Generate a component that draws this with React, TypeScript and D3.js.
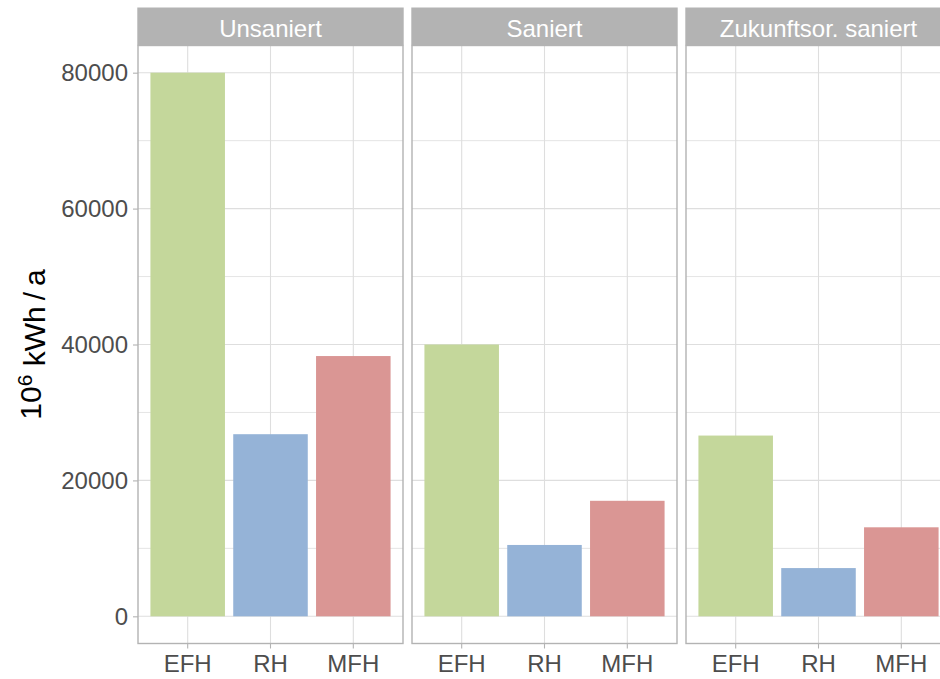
import React, { useEffect, useRef } from "react";
import * as d3 from "d3";

// facets, categories and values (10^6 kWh/a)
const facets = ["Unsaniert", "Saniert", "Zukunftsor. saniert"];
const types = ["EFH", "RH", "MFH"];
const unsaniert = [80000, 26800, 38300];
const saniert = [40000, 10500, 17000];
const zukunftsorSaniert = [26600, 7100, 13100];
const barColors = ["#C4D79B", "#95B3D7", "#DA9694"];
const yTicks = [0, 20000, 40000, 60000, 80000];
const yMinorTicks = [10000, 30000, 50000, 70000];

const App = () => {
  const ref = useRef<SVGSVGElement>(null);

  useEffect(() => {
    const width = 940;
    const height = 679;
    const stripTop = 7.5;
    const panelTop = 45.5;
    const panelBottom = 643.5;
    const font = "'Liberation Sans', Arial, sans-serif";
    const border = "#B3B3B3";
    const grid = "#DEDEDE";

    const series = [unsaniert, saniert, zukunftsorSaniert];
    const data = facets.flatMap((f, i) =>
      types.map((t, j) => ({ facet: f, type: t, value: series[i][j] }))
    );

    const svg = d3.select(ref.current);
    svg.selectAll("*").remove();
    svg.attr("width", width).attr("height", height);

    const facetScale = d3
      .scaleBand<string>(facets, [138, 951])
      .paddingInner(9 / 274)
      .paddingOuter(0);
    const pw = facetScale.bandwidth();

    const x = d3
      .scaleBand<string>(types, [0, pw])
      .paddingInner(0.1)
      .paddingOuter(0.15);

    const maxV = d3.max(data, (d) => d.value) as number;
    const pad = maxV * 0.05;
    const y = d3.scaleLinear([-pad, maxV + pad], [panelBottom, panelTop]);
    const color = d3.scaleOrdinal<string, string>(types, barColors);

    facets.forEach((f) => {
      const g = svg
        .append("g")
        .attr("transform", `translate(${facetScale(f)},0)`);

      // minor grid
      g.selectAll(".minor")
        .data(yMinorTicks)
        .join("line")
        .attr("x1", 0)
        .attr("x2", pw)
        .attr("y1", (d) => y(d))
        .attr("y2", (d) => y(d))
        .attr("stroke", grid)
        .attr("stroke-width", 0.8);

      // major grid
      g.selectAll(".major")
        .data(yTicks)
        .join("line")
        .attr("x1", 0)
        .attr("x2", pw)
        .attr("y1", (d) => y(d))
        .attr("y2", (d) => y(d))
        .attr("stroke", grid)
        .attr("stroke-width", 1.1);

      g.selectAll(".vgrid")
        .data(types)
        .join("line")
        .attr("x1", (d) => (x(d) as number) + x.bandwidth() / 2)
        .attr("x2", (d) => (x(d) as number) + x.bandwidth() / 2)
        .attr("y1", panelTop)
        .attr("y2", panelBottom)
        .attr("stroke", grid)
        .attr("stroke-width", 1.1);

      g.selectAll("rect.bar")
        .data(data.filter((d) => d.facet === f))
        .join("rect")
        .attr("x", (d) => x(d.type) as number)
        .attr("y", (d) => y(d.value))
        .attr("width", x.bandwidth())
        .attr("height", (d) => y(0) - y(d.value))
        .attr("fill", (d) => color(d.type));

      // panel border
      g.append("rect")
        .attr("x", 0)
        .attr("y", panelTop)
        .attr("width", pw)
        .attr("height", panelBottom - panelTop)
        .attr("fill", "none")
        .attr("stroke", border)
        .attr("stroke-width", 1.4);

      // strip
      g.append("rect")
        .attr("x", -0.7)
        .attr("y", stripTop)
        .attr("width", pw + 1.4)
        .attr("height", panelTop - stripTop)
        .attr("fill", border);
      g.append("text")
        .attr("x", pw / 2)
        .attr("y", 37)
        .attr("text-anchor", "middle")
        .attr("fill", "white")
        .style("font-family", font)
        .style("font-size", "24px")
        .text(f);

      // x axis
      g.append("g")
        .attr("transform", `translate(0,${panelBottom})`)
        .call(
          d3
            .axisBottom(x)
            .tickSize(5)
            .tickPadding(6)
            .tickSizeOuter(0)
        )
        .call((a) => a.select(".domain").remove())
        .call((a) => a.selectAll(".tick line").attr("stroke", border).attr("stroke-width", 1.1))
        .call((a) =>
          a
            .selectAll(".tick text")
            .attr("fill", "#4D4D4D")
            .style("font-family", font)
            .style("font-size", "24px")
        );
    });

    // y axis on first panel
    svg
      .append("g")
      .attr("transform", `translate(${facetScale(facets[0])},0)`)
      .call(d3.axisLeft(y).tickValues(yTicks).tickSize(5).tickPadding(5).tickFormat(d3.format("d")))
      .call((a) => a.select(".domain").remove())
      .call((a) => a.selectAll(".tick line").attr("stroke", border).attr("stroke-width", 1.1))
      .call((a) =>
        a
          .selectAll(".tick text")
          .attr("fill", "#4D4D4D")
          .style("font-family", font)
          .style("font-size", "24px")
      );

    // y axis title
    const title = svg
      .append("text")
      .attr("transform", `translate(41,${(panelTop + panelBottom) / 2}) rotate(-90)`)
      .attr("text-anchor", "middle")
      .attr("fill", "black")
      .style("font-family", font)
      .style("font-size", "30px");
    title.append("tspan").text("10");
    title.append("tspan").attr("dy", "-0.45em").style("font-size", "21px").text("6");
    title.append("tspan").attr("dy", "0.45em").text(" kWh\u2009/\u2009a");
  }, []);

  return (
    <svg
      ref={ref}
      style={{ position: "absolute", left: 0, top: 0, background: "white" }}
    ></svg>
  );
};

export default App;
